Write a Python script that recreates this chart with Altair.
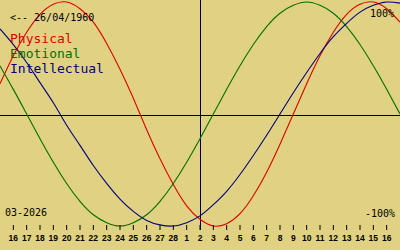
import altair as alt
import pandas as pd

# day offsets relative to 02/03/2026 (x axis), Feb 15 .. Mar 17
days = list(range(-15, 16))
physical = [0.27, 0.52, 0.73, 0.89, 0.98, 1.00, 0.94, 0.82, 0.63, 0.40, 0.14, -0.14, -0.40,
            -0.63, -0.82, -0.94, -1.00, -0.98, -0.89, -0.73, -0.52, -0.27, 0.00, 0.27, 0.52,
            0.73, 0.89, 0.98, 1.00, 0.94, 0.82]
emotional = [0.43, 0.22, 0.00, -0.22, -0.43, -0.62, -0.78, -0.90, -0.97, -1.00, -0.97, -0.90,
             -0.78, -0.62, -0.43, -0.22, 0.00, 0.22, 0.43, 0.62, 0.78, 0.90, 0.97, 1.00, 0.97,
             0.90, 0.78, 0.62, 0.43, 0.22, 0.00]
intellectual = [0.76, 0.62, 0.46, 0.28, 0.10, -0.10, -0.28, -0.46, -0.62, -0.76, -0.87, -0.95,
                -0.99, -1.00, -0.97, -0.91, -0.81, -0.69, -0.54, -0.37, -0.19, 0.00, 0.19, 0.37,
                0.54, 0.69, 0.81, 0.91, 0.97, 1.00, 0.99]

tick_days = list(range(-14, 15))
tick_labels = ["16", "17", "18", "19", "20", "21", "22", "23", "24", "25", "26", "27", "28",
               "1", "2", "3", "4", "5", "6", "7", "8", "9", "10", "11", "12", "13", "14", "15", "16"]

series_names = ["Physical", "Emotional", "Intellectual"]
series_colors = ["#e00000", "#007000", "#000080"]

rows = []
for name, vals in zip(series_names, [physical, emotional, intellectual]):
    for d, v in zip(days, vals):
        rows.append({"day": d, "value": v, "series": name})
df = pd.DataFrame(rows)
ticks = pd.DataFrame({"day": tick_days, "label": tick_labels})

xs = alt.Scale(domain=[-15, 15], range=[0, 400])
ys = alt.Scale(domain=[-1, 1], range=[226, 2])
cs = alt.Scale(domain=series_names, range=series_colors)

hline = alt.Chart(pd.DataFrame({"v": [0]})).mark_rule(color="black", strokeWidth=1, yOffset=1.5).encode(
    y=alt.Y("v:Q", scale=ys, axis=None), x=alt.value(0), x2=alt.value(400))
vline = alt.Chart(pd.DataFrame({"d": [0]})).mark_rule(color="black", strokeWidth=1, xOffset=0.5).encode(
    x=alt.X("d:Q", scale=xs, axis=None), y=alt.value(0), y2=alt.value(230))

lines = alt.Chart(df).mark_line(strokeWidth=1.1, interpolate="natural").encode(
    x=alt.X("day:Q", scale=xs, axis=None),
    y=alt.Y("value:Q", scale=ys, axis=None),
    color=alt.Color("series:N", scale=cs, legend=None),
    detail="series:N")

tickmarks = alt.Chart(ticks).mark_rule(color="black", strokeWidth=1).encode(
    x=alt.X("day:Q", scale=xs, axis=None), y=alt.value(225), y2=alt.value(230))
ticktext = alt.Chart(ticks).mark_text(font="Liberation Sans", fontSize=8.5, fontWeight="bold",
                                      color="black", baseline="alphabetic").encode(
    x=alt.X("day:Q", scale=xs, axis=None), y=alt.value(241), text="label:N")


def label(txt, x, y, align="left", size=10, color="black"):
    return alt.Chart(pd.DataFrame({"t": [txt]})).mark_text(
        font="DejaVu Sans Mono", fontSize=size, align=align, baseline="alphabetic",
        color=color).encode(x=alt.value(x), y=alt.value(y), text="t:N")


legend_layers = [label(n, 10, 43 + 15 * i, size=13, color=c)
                 for i, (n, c) in enumerate(zip(series_names, series_colors))]

chart = alt.layer(
    hline, vline, lines, tickmarks, ticktext, *legend_layers,
    label("<-- 26/04/1960", 10, 21),
    label("100%", 394, 17, "right"),
    label("-100%", 395, 217, "right"),
    label("03-2026", 5, 216),
).properties(width=400, height=250, autosize=alt.AutoSizeParams(type="none"), padding=0,
             background="#e1d283").configure_view(stroke=None)

chart.save("out.html", embed_options={"renderer": "svg", "actions": False})
